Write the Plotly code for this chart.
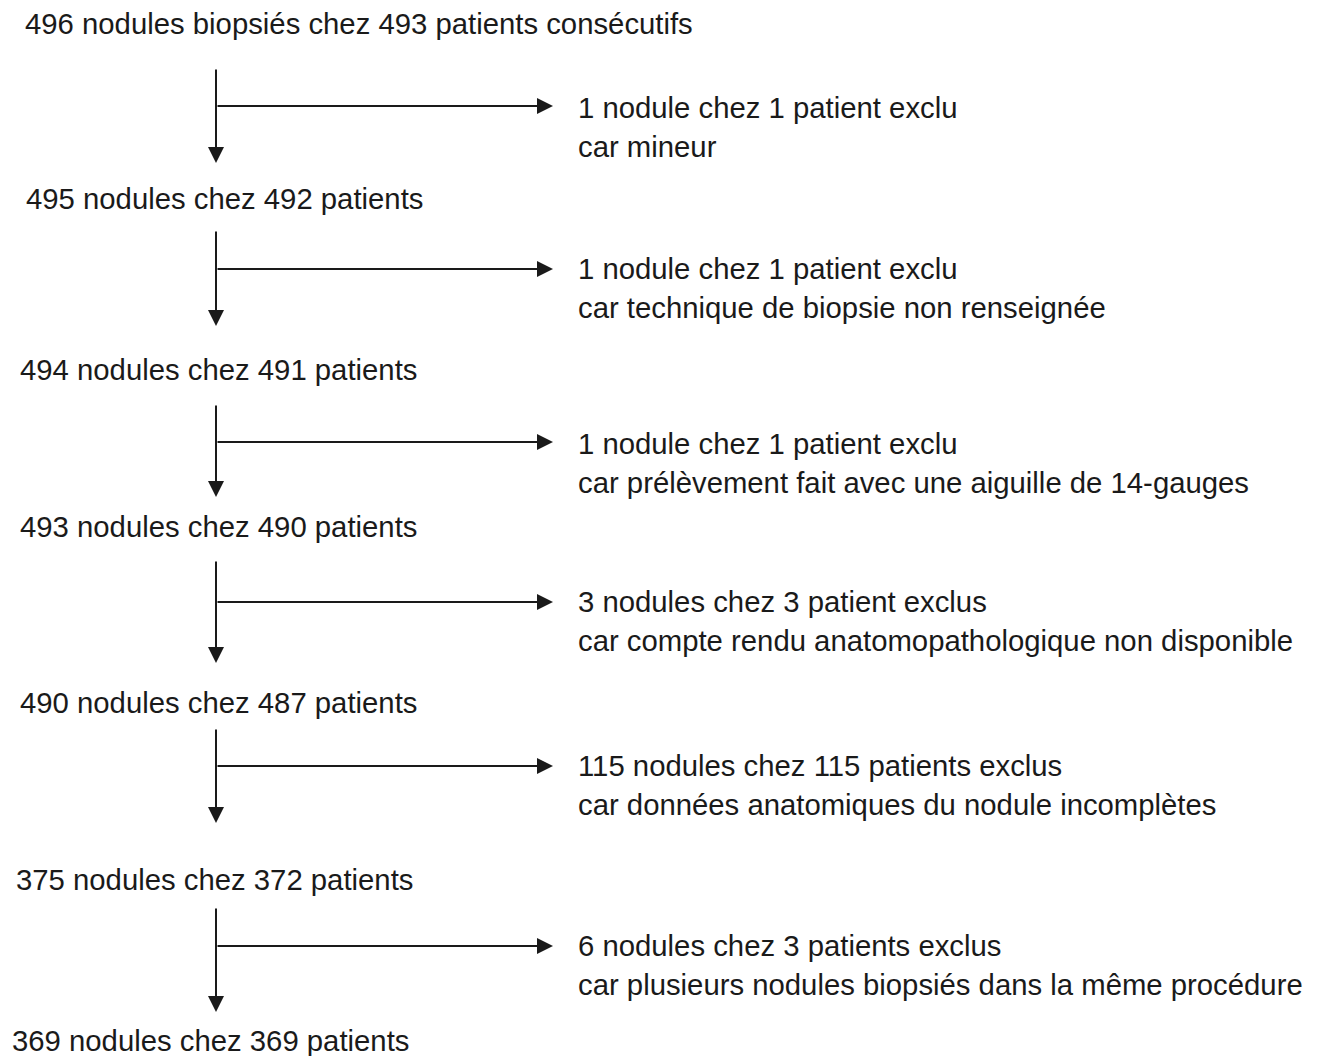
import plotly.graph_objects as go

# Data
stage_nodules = [496, 495, 494, 493, 490, 375, 369]
stage_patients = [493, 492, 491, 490, 487, 372, 369]
excl_line1 = [
    "1 nodule chez 1 patient exclu",
    "1 nodule chez 1 patient exclu",
    "1 nodule chez 1 patient exclu",
    "3 nodules chez 3 patient exclus",
    "115 nodules chez 115 patients exclus",
    "6 nodules chez 3 patients exclus",
]
excl_reason = [
    "car mineur",
    "car technique de biopsie non renseignée",
    "car prélèvement fait avec une aiguille de 14-gauges",
    "car compte rendu anatomopathologique non disponible",
    "car données anatomiques du nodule incomplètes",
    "car plusieurs nodules biopsiés dans la même procédure",
]

# Layout (pixel coordinates)
W, H = 1322, 1056
FONT = "Liberation Sans, Arial, sans-serif"
FS = 29.3
TXT = "#1a1a1a"
stage_x = [23, 24, 18, 18, 18, 14, 10]
stage_y = [23, 198, 369, 526, 702, 879, 1040]
arrow_x = 216
v_start = [68, 230, 404, 560, 728, 907]
v_end = [163, 326, 497, 663, 823, 1012]
h_y = [106, 269, 442, 602, 766, 946]
h_end = [553, 553, 553, 553, 553, 553]
excl_x = 576
excl_y1 = [107, 268, 443, 601, 765, 945]
excl_dy = 39

fig = go.Figure()
fig.add_trace(go.Scatter(x=[0, W], y=[0, H], mode="markers",
                         marker=dict(opacity=0), hoverinfo="skip", showlegend=False))

annotations = []
for i in range(len(stage_nodules)):
    if i == 0:
        txt = f"{stage_nodules[i]} nodules biopsiés chez {stage_patients[i]} patients consécutifs"
    else:
        txt = f"{stage_nodules[i]} nodules chez {stage_patients[i]} patients"
    annotations.append(dict(x=stage_x[i], y=stage_y[i], xref="x", yref="y", text=txt,
                            showarrow=False, xanchor="left", yanchor="middle",
                            font=dict(family=FONT, size=FS, color=TXT)))

for i in range(len(excl_line1)):
    annotations.append(dict(x=arrow_x, y=v_end[i], ax=arrow_x, ay=v_start[i],
                            xref="x", yref="y", axref="x", ayref="y", text="",
                            showarrow=True, arrowhead=2, arrowsize=1.6, arrowwidth=2,
                            arrowcolor=TXT, standoff=0))
    annotations.append(dict(x=h_end[i], y=h_y[i], ax=arrow_x, ay=h_y[i],
                            xref="x", yref="y", axref="x", ayref="y", text="",
                            showarrow=True, arrowhead=2, arrowsize=1.6, arrowwidth=2,
                            arrowcolor=TXT, standoff=0))
    annotations.append(dict(x=excl_x, y=excl_y1[i], xref="x", yref="y", text=excl_line1[i],
                            showarrow=False, xanchor="left", yanchor="middle",
                            font=dict(family=FONT, size=FS, color=TXT)))
    annotations.append(dict(x=excl_x, y=excl_y1[i] + excl_dy, xref="x", yref="y",
                            text=excl_reason[i],
                            showarrow=False, xanchor="left", yanchor="middle",
                            font=dict(family=FONT, size=FS, color=TXT)))

fig.update_layout(
    width=W, height=H, margin=dict(l=0, r=0, t=0, b=0),
    paper_bgcolor="white", plot_bgcolor="white",
    xaxis=dict(range=[0, W], visible=False, fixedrange=True),
    yaxis=dict(range=[H, 0], visible=False, fixedrange=True),
    annotations=annotations, showlegend=False,
)
fig.write_html("out.html", config={"displayModeBar": False},
               post_script="document.body.style.margin='0';document.body.style.overflow='hidden';")
